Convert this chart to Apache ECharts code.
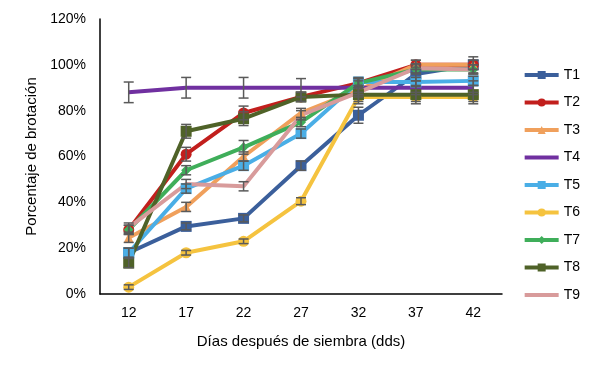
<!DOCTYPE html>
<html>
<head>
<meta charset="utf-8">
<script src="https://cdn.jsdelivr.net/npm/echarts@6/dist/echarts.min.js"></script>
<style>
  body { margin: 0; background: #fff; }
  #chart { width: 600px; height: 368px; }
</style>
</head>
<body>
<div id="chart"></div>
<script>
var dias = ['12', '17', '22', '27', '32', '37', '42'];
var nombres = ['T1', 'T2', 'T3', 'T4', 'T5', 'T6', 'T7', 'T8', 'T9'];

// porcentaje de brotacion (fraccion)
var t1 = [0.18, 0.295, 0.33, 0.56, 0.78, 0.96, 1.00];
var t2 = [0.28, 0.61, 0.79, 0.86, 0.92, 1.00, 1.00];
var t3 = [0.245, 0.38, 0.60, 0.79, 0.89, 1.00, 1.00];
var t4 = [0.88, 0.90, 0.90, 0.90, 0.90, 0.90, 0.90];
var t5 = [0.18, 0.46, 0.56, 0.70, 0.925, 0.925, 0.93];
var t6 = [0.03, 0.18, 0.23, 0.405, 0.86, 0.86, 0.86];
var t7 = [0.28, 0.54, 0.64, 0.75, 0.92, 0.98, 0.98];
var t8 = [0.135, 0.71, 0.765, 0.86, 0.87, 0.87, 0.87];
var t9 = [0.29, 0.48, 0.47, 0.78, 0.88, 0.985, 0.98];

// error estandar (barras grises)
var e1 = [0.02, 0.015, 0.015, 0.02, 0.035, 0.03, 0.035];
var e2 = [0.02, 0.03, 0.03, 0.02, 0.02, 0.02, 0.02];
var e3 = [0.02, 0.02, 0.02, 0.02, 0.02, 0.02, 0.02];
var e4 = [0.045, 0.045, 0.045, 0.04, 0.03, 0.03, 0.03];
var e5 = [0.02, 0.02, 0.02, 0.02, 0.02, 0.02, 0.02];
var e6 = [0.01, 0.01, 0.01, 0.015, 0.02, 0.02, 0.02];
var e7 = [0.02, 0.02, 0.03, 0.02, 0.02, 0.02, 0.02];
var e8 = [0.02, 0.03, 0.03, 0.02, 0.04, 0.04, 0.04];
var e9 = [0.02, 0.02, 0.02, 0.02, 0.02, 0.02, 0.02];

var valores = [t1, t2, t3, t4, t5, t6, t7, t8, t9];
var errores = [e1, e2, e3, e4, e5, e6, e7, e8, e9];
var colores = ['#3b5f9b', '#c21f1d', '#f0a05c', '#7030a0', '#4aaee6', '#f5c33f', '#3fae5a', '#4f6228', '#d89b9b'];
var simbolos = ['rect', 'circle', 'triangle', 'none', 'rect', 'circle', 'diamond', 'rect', 'none'];

var chart = echarts.init(document.getElementById('chart'));

function barrasError(params, api) {
    var x = api.value(0);
    var lo = api.coord([x, api.value(1)]);
    var hi = api.coord([x, api.value(2)]);
    var w = 5;
    var estilo = { stroke: '#5a5a5a', lineWidth: 1.5 };
    return {
        type: 'group',
        children: [
            { type: 'line', shape: { x1: hi[0], y1: hi[1], x2: lo[0], y2: lo[1] }, style: estilo },
            { type: 'line', shape: { x1: hi[0] - w, y1: hi[1], x2: hi[0] + w, y2: hi[1] }, style: estilo },
            { type: 'line', shape: { x1: lo[0] - w, y1: lo[1], x2: lo[0] + w, y2: lo[1] }, style: estilo }
        ]
    };
}

var series = [];
nombres.forEach(function (n, i) {
    series.push({
        name: n,
        type: 'line',
        data: valores[i],
        symbol: simbolos[i],
        symbolSize: simbolos[i] == 'triangle' || simbolos[i] == 'diamond' ? 10 : 11,
        itemStyle: { color: colores[i] },
        lineStyle: { width: 4, color: colores[i] },
        z: 2
    });
});
nombres.forEach(function (n, i) {
    series.push({
        type: 'custom',
        renderItem: barrasError,
        data: valores[i].map(function (v, j) {
            return [j, v - errores[i][j], v + errores[i][j]];
        }),
        silent: true,
        z: 3
    });
});

// leyenda: sin marcador para T4 y T9
var leyenda = nombres.map(function (n, i) {
    var item = { name: n };
    if (simbolos[i] == 'none') item.itemStyle = { opacity: 0 };
    return item;
});

var option = {
    animation: false,
    textStyle: { fontFamily: 'Liberation Sans, Arial, sans-serif' },
    grid: { left: 100, right: 98, top: 19, bottom: 74 },
    legend: {
        orient: 'vertical',
        right: 15,
        top: 63,
        itemWidth: 34,
        itemHeight: 10,
        itemGap: 13.5,
        data: leyenda,
        lineStyle: { width: 4 },
        textStyle: { fontSize: 14, color: '#000' }
    },
    xAxis: {
        type: 'category',
        data: dias,
        name: 'Días después de siembra (dds)',
        nameLocation: 'middle',
        nameGap: 40,
        nameTextStyle: { fontSize: 15, color: '#000' },
        axisLine: { lineStyle: { color: '#000', width: 1.5 } },
        axisTick: { show: false },
        axisLabel: { fontSize: 14, color: '#000', margin: 12 }
    },
    yAxis: {
        type: 'value',
        min: 0,
        max: 1.2,
        interval: 0.2,
        name: 'Porcentaje de brotación',
        nameLocation: 'middle',
        nameGap: 60,
        nameTextStyle: { fontSize: 15, color: '#000' },
        axisLine: { show: true, lineStyle: { color: '#000', width: 1.5 } },
        axisTick: { show: false },
        splitLine: { show: false },
        axisLabel: {
            fontSize: 14,
            color: '#000',
            margin: 14,
            formatter: function (v) { return Math.round(v * 100) + '%'; }
        }
    },
    series: series
};

chart.setOption(option);
</script>
</body>
</html>
